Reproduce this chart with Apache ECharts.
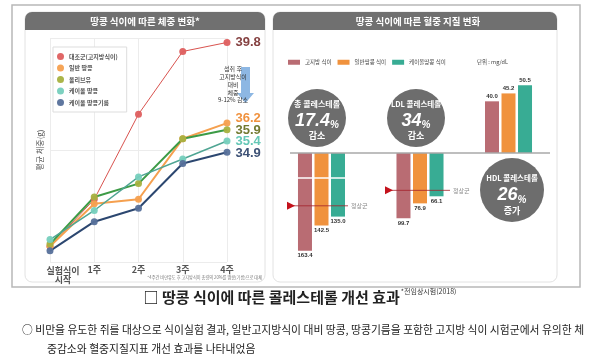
<!DOCTYPE html>
<html><head><meta charset="utf-8">
<script src="https://cdn.jsdelivr.net/npm/echarts@6/dist/echarts.min.js"></script>
<style>html,body{margin:0;padding:0;background:#fff}#c{width:600px;height:359px}</style>
</head><body><div id="c"></div>
<script>
// ---- data ----
const weekCats = ['실험식이\n시작', '1주', '2주', '3주', '4주'];
const lineNames = ['대조군(고지방식이)', '일반 땅콩', '올리브유', '케이올 땅콩', '케이올 땅콩기름'];
const controlVals = [30.7, 32.8, 36.6, 39.4, 39.8];
const peanutVals = [30.7, 32.6, 32.8, 35.5, 36.2];
const oliveVals = [30.8, 32.9, 33.5, 35.5, 35.9];
const kolPeanutVals = [31.0, 32.3, 33.8, 34.6, 35.4];
const kolOilVals = [30.5, 31.8, 32.4, 34.4, 34.9];

const dietNames = ['고지방 식이', '일반땅콩 식이', '케이올땅콩 식이'];
const totalChol = [163.4, 142.5, 135.0];
const ldlChol = [99.7, 76.9, 66.1];
const hdlChol = [40.0, 45.2, 50.5];
const normalTotal = 126;
const normalLdl = 57;
const totalBreakAt = 103;
const normalLabel = '정상군';

// ---- styles ----
const FONT = "'Noto Sans CJK KR', 'Noto Sans', sans-serif";
const NUMFONT = "'Liberation Sans', Arial, sans-serif";
const lineMarker = ['#de5f5f', '#f5a04f', '#a7b13f', '#76cfbd', '#56709a'];
const lineStroke = ['#d9534f', '#f5a04f', '#3c9b46', '#4fa593', '#2c4770'];
const lineWidths = [1, 2, 2, 1.5, 2];
const endLabelColor = ['#7e3737', '#ef8c35', '#6b7326', '#5cc4b2', '#34496f'];
const endLabelDy = [0, -5, 1, 0, 1];
const barColors = ['#b96c73', '#f0923d', '#38ac94'];

const lineData = [controlVals, peanutVals, oliveVals, kolPeanutVals, kolOilVals];

const series = [];
lineData.forEach((vals, k) => {
  series.push({
    type: 'line', name: lineNames[k], xAxisIndex: 0, yAxisIndex: 0,
    symbol: 'circle', symbolSize: 7,
    itemStyle: { color: lineMarker[k], opacity: 0.95 },
    lineStyle: { color: lineStroke[k], width: lineWidths[k] },
    labelLayout: { hideOverlap: false, dy: endLabelDy[k] },
    data: vals.map((v, i) => i === vals.length - 1 ? {
      value: v,
      label: { show: true, position: 'right', distance: 5, fontSize: 13, fontWeight: 'bold',
        fontFamily: NUMFONT, color: endLabelColor[k],
        formatter: p => p.value.toFixed(1) }
    } : v)
  });
});

function barSeries(vals, idx, pos) {
  vals.forEach((v, j) => {
    series.push({
      type: 'bar', name: dietNames[j], xAxisIndex: idx, yAxisIndex: idx,
      barWidth: 14, barGap: '18%',
      itemStyle: { color: barColors[j] },
      label: { show: true, position: pos, distance: 2, fontSize: 6, fontWeight: 'bold', color: '#333',
        fontFamily: NUMFONT, formatter: p => p.value.toFixed(1) },
      data: [v]
    });
  });
}
barSeries(totalChol, 1, 'bottom');
const totalLastIdx = series.length - 1;
barSeries(ldlChol, 2, 'bottom');
barSeries(hdlChol, 3, 'top');
// axis break mark on total cholesterol bars
series[totalLastIdx].markLine = {
  silent: true, symbol: 'none', label: { show: false }, z: 10,
  lineStyle: { color: '#fff', width: 1.5, type: 'solid' },
  data: [{ yAxis: totalBreakAt }]
};

function normalSeries(val, idx) {
  series.push({
    type: 'line', xAxisIndex: idx, yAxisIndex: idx, silent: true, z: 5,
    lineStyle: { color: '#a3202a', width: 0.8 },
    itemStyle: { color: '#c4121c' },
    data: [
      { value: [0, val], symbol: 'triangle', symbolSize: [8, 8], symbolRotate: -90 },
      { value: [1, val], symbol: 'none' }
    ]
  });
}
normalSeries(normalTotal, 4);
normalSeries(normalLdl, 5);

const graphics = [
    { type: 'rect', z: -10, shape: { x: 12, y: 5, width: 568, height: 282 },
      style: { fill: '#fff', stroke: '#b8b8b8', lineWidth: 1.5 } },
    { type: 'rect', z: -9, shape: { x: 25, y: 12, width: 240, height: 270, r: 7 },
      style: { fill: '#fff', stroke: '#e2e2e2', lineWidth: 1 } },
    { type: 'rect', z: -8, shape: { x: 25, y: 12, width: 240, height: 18, r: [7, 7, 0, 0] },
      style: { fill: '#707070' } },
    { type: 'rect', z: -9, shape: { x: 273, y: 12, width: 284, height: 270, r: 7 },
      style: { fill: '#fff', stroke: '#e2e2e2', lineWidth: 1 } },
    { type: 'rect', z: -8, shape: { x: 273, y: 12, width: 284, height: 18, r: [7, 7, 0, 0] },
      style: { fill: '#707070' } },
    { type: 'text', z: 5, x: 145, y: 21, style: { text: '땅콩 식이에 따른 체중 변화*', fill: '#fff', font: 'bold 9.5px ' + FONT, textAlign: 'center', textVerticalAlign: 'middle' } },
    { type: 'text', z: 5, x: 418, y: 21, style: { text: '땅콩 식이에 따른 혈중 지질 변화', fill: '#fff', font: 'bold 9.5px ' + FONT, textAlign: 'center', textVerticalAlign: 'middle' } },
    // arrow + annotation
    { type: 'polygon', z: 1, shape: { points: [[241, 67], [250, 67], [250, 93], [254, 93], [245.5, 103], [237, 93], [241, 93]] },
      style: { fill: '#8db7e3' } },
    { type: 'text', z: 6, x: 233, y: 84.5, style: { text: '섭취 후\n고지방식이\n대비\n체중\n9-12% 감소', fill: '#333', font: '6px ' + FONT, lineHeight: 7.8, textAlign: 'center', textVerticalAlign: 'middle' } },
    { type: 'text', z: 5, x: 262, y: 277, style: { text: '*4주간 비만유도 후 고지방식이 총량의 20%를 땅콩(기름)으로 대체', fill: '#777', font: '4.2px ' + FONT, textAlign: 'right', textVerticalAlign: 'middle' } },
    // baseline
    { type: 'line', z: 5, shape: { x1: 290, y1: 153, x2: 550, y2: 153 }, style: { stroke: '#a9a9a9', lineWidth: 1.5 } },
    { type: 'text', z: 5, x: 477, y: 62, style: { text: '단위 : mg/dL', fill: '#444', font: '5.5px ' + FONT, textVerticalAlign: 'middle' } },
    // circles
    { type: 'circle', z: 1, shape: { cx: 317, cy: 118, r: 29 }, style: { fill: '#6d6d6d' } },
    { type: 'text', z: 5, x: 317, y: 119, style: { text: '{a|총 콜레스테롤}\n{b|17.4}{c|%}\n{d|감소}', textAlign: 'center', textVerticalAlign: 'middle',
      rich: { a: { fill: '#fff', fontSize: 8, fontWeight: 'bold', lineHeight: 15, fontFamily: FONT },
              b: { fill: '#fff', fontSize: 18, fontWeight: 'bold', fontStyle: 'italic', lineHeight: 19, fontFamily: NUMFONT },
              c: { fill: '#fff', fontSize: 10, fontWeight: 'bold', fontStyle: 'italic', lineHeight: 19, verticalAlign: 'bottom', fontFamily: NUMFONT },
              d: { fill: '#fff', fontSize: 9, fontWeight: 'bold', lineHeight: 11, fontFamily: FONT } } } },
    { type: 'circle', z: 1, shape: { cx: 416, cy: 118, r: 29 }, style: { fill: '#6d6d6d' } },
    { type: 'text', z: 5, x: 416, y: 119, style: { text: '{a|LDL 콜레스테롤}\n{b|34}{c|%}\n{d|감소}', textAlign: 'center', textVerticalAlign: 'middle',
      rich: { a: { fill: '#fff', fontSize: 7.5, fontWeight: 'bold', lineHeight: 15, fontFamily: FONT },
              b: { fill: '#fff', fontSize: 18, fontWeight: 'bold', fontStyle: 'italic', lineHeight: 19, fontFamily: NUMFONT },
              c: { fill: '#fff', fontSize: 10, fontWeight: 'bold', fontStyle: 'italic', lineHeight: 19, verticalAlign: 'bottom', fontFamily: NUMFONT },
              d: { fill: '#fff', fontSize: 9, fontWeight: 'bold', lineHeight: 11, fontFamily: FONT } } } },
    { type: 'circle', z: 1, shape: { cx: 512, cy: 190, r: 32 }, style: { fill: '#6d6d6d' } },
    { type: 'text', z: 5, x: 512, y: 193, style: { text: '{a|HDL 콜레스테롤}\n{b|26}{c|%}\n{d|증가}', textAlign: 'center', textVerticalAlign: 'middle',
      rich: { a: { fill: '#fff', fontSize: 7.5, fontWeight: 'bold', lineHeight: 16, fontFamily: FONT },
              b: { fill: '#fff', fontSize: 18, fontWeight: 'bold', fontStyle: 'italic', lineHeight: 19, fontFamily: NUMFONT },
              c: { fill: '#fff', fontSize: 10, fontWeight: 'bold', fontStyle: 'italic', lineHeight: 19, verticalAlign: 'bottom', fontFamily: NUMFONT },
              d: { fill: '#fff', fontSize: 9, fontWeight: 'bold', lineHeight: 11, fontFamily: FONT } } } },
    // bottom texts
    { type: 'text', z: 5, x: 300, y: 297, style: { text: '{a|□ 땅콩 식이에 따른 콜레스테롤 개선 효과}{b|*전임상시험(2018)}', textAlign: 'center', textVerticalAlign: 'middle',
      rich: { a: { fill: '#222', fontSize: 15, fontWeight: 'bold', fontFamily: FONT, lineHeight: 18 },
              b: { fill: '#333', fontSize: 7, fontFamily: FONT, verticalAlign: 'top', lineHeight: 18, padding: [0, 0, 8, 1] } } } },
    { type: 'text', z: 5, x: 22, y: 330, style: { text: '○ 비만을 유도한 쥐를 대상으로 식이실험 결과, 일반고지방식이 대비 땅콩, 땅콩기름을 포함한 고지방 식이 시험군에서 유의한 체', fill: '#222', font: '10.8px ' + FONT, textVerticalAlign: 'middle' } },
    { type: 'text', z: 5, x: 47, y: 349, style: { text: '중감소와 혈중지질지표 개선 효과를 나타내었음', fill: '#222', font: '10.8px ' + FONT, textVerticalAlign: 'middle' } }
];

const option = {
  animation: false,
  backgroundColor: '#fff',
  textStyle: { fontFamily: FONT },
  grid: [
    { left: 50, top: 38, width: 177, height: 224 },
    { left: 296.5, top: 153, width: 50, height: 120 },
    { left: 395, top: 153, width: 50, height: 131 },
    { left: 483.5, top: 77, width: 50, height: 76 },
    { left: 291, top: 153, width: 57, height: 120 },
    { left: 389, top: 153, width: 61, height: 131 }
  ],
  xAxis: [
    { gridIndex: 0, type: 'category', data: weekCats, boundaryGap: false,
      axisLine: { show: false }, axisTick: { show: false },
      splitLine: { show: true, interval: 0, lineStyle: { color: '#ececec' } },
      axisLabel: { interval: 0, margin: 4, fontSize: 9, color: '#555', fontWeight: 'bold', lineHeight: 8,
        formatter: v => v === weekCats[0] ? '{s|' + v + '}' : v,
        rich: { s: { padding: [0, 0, 0, 26], fontSize: 9, lineHeight: 9, color: '#555', fontWeight: 'bold' } } } },
    { gridIndex: 1, type: 'category', data: ['총'], show: false },
    { gridIndex: 2, type: 'category', data: ['LDL'], show: false },
    { gridIndex: 3, type: 'category', data: ['HDL'], show: false },
    { gridIndex: 4, type: 'value', min: 0, max: 1, show: false },
    { gridIndex: 5, type: 'value', min: 0, max: 1, show: false }
  ],
  yAxis: [
    { gridIndex: 0, type: 'value', min: 30, max: 40, interval: 5,
      axisLabel: { show: false }, axisLine: { show: false }, axisTick: { show: false },
      splitLine: { lineStyle: { color: '#ececec' } },
      name: '평균 체중(g)', nameLocation: 'middle', nameGap: 6, nameRotate: 90,
      nameTextStyle: { fontSize: 8, color: '#555' } },
    { gridIndex: 1, type: 'value', min: 82, max: 182, inverse: true, show: false },
    { gridIndex: 2, type: 'value', min: 0, max: 200, inverse: true, show: false },
    { gridIndex: 3, type: 'value', min: 6, max: 56, show: false },
    { gridIndex: 4, type: 'value', min: 82, max: 182, inverse: true, show: false },
    { gridIndex: 5, type: 'value', min: 0, max: 200, inverse: true, show: false }
  ],
  legend: [
    { data: lineNames, orient: 'vertical', left: 53, top: 47, icon: 'circle',
      itemWidth: 7, itemHeight: 7, itemGap: 4.5, backgroundColor: '#fff',
      borderColor: '#ddd', borderWidth: 1, padding: [6, 9, 6, 4],
      textStyle: { fontSize: 6, fontWeight: 'bold', color: '#555' } },
    { data: dietNames, orient: 'horizontal', left: 288, top: 59.5, icon: 'rect',
      itemWidth: 12, itemHeight: 5, itemGap: 6, padding: 0,
      textStyle: { fontSize: 5.5, color: '#444' } }
  ],
  graphic: graphics,
  series: series
};
const chart = echarts.init(document.getElementById('c'), null, { renderer: 'canvas' });
chart.setOption(option);
// "정상군" labels placed at the end of each normal-group line, via the axes' own scales
const pT = chart.convertToPixel({ gridIndex: 4 }, [1, normalTotal]);
const pL = chart.convertToPixel({ gridIndex: 5 }, [1, normalLdl]);
graphics.push(
  { type: 'text', z: 6, x: pT[0] + 3, y: pT[1], style: { text: normalLabel, fill: '#888', font: '6px ' + FONT, textVerticalAlign: 'middle' } },
  { type: 'text', z: 6, x: pL[0] + 3, y: pL[1], style: { text: normalLabel, fill: '#888', font: '6px ' + FONT, textVerticalAlign: 'middle' } }
);
chart.setOption({ graphic: graphics });
</script></body></html>
